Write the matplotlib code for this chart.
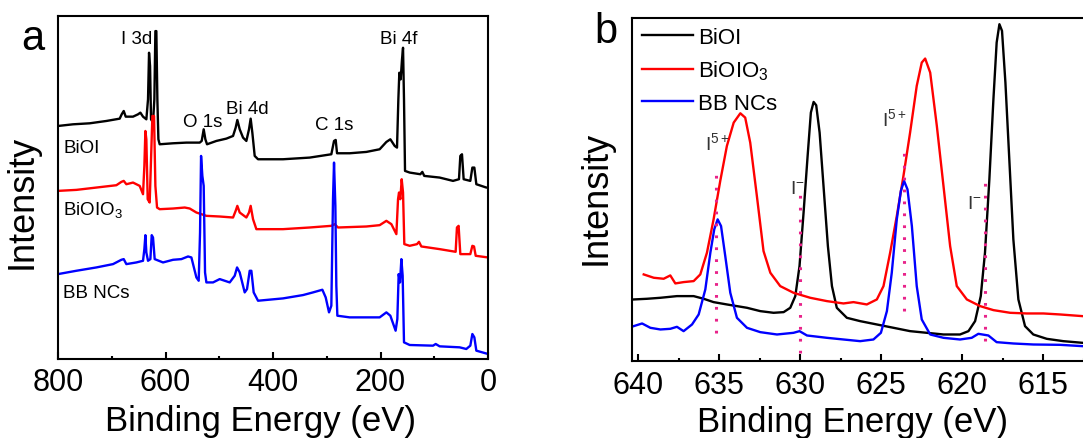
import matplotlib
matplotlib.use("Agg")
import matplotlib.pyplot as plt
from matplotlib.ticker import MultipleLocator

plt.rcParams['font.family'] = ['Liberation Sans', 'DejaVu Sans']
plt.rcParams['mathtext.fontset'] = 'custom'
plt.rcParams['mathtext.rm'] = 'Liberation Sans'
plt.rcParams['mathtext.it'] = 'Liberation Sans'

# ---- panel a: survey spectra (binding energy in eV, intensity in a.u., stacked) ----
a_biOI_E = [800, 772.1, 741.1, 710.1, 685.3, 681.6, 677.8, 674.1, 660.5, 651.2, 646.8, 641.9,
            635.7, 632.6, 630.7, 628.8, 627.0, 623.3, 620.8, 618.9, 617.1, 615.2, 613.3, 610.9,
            586.0, 561.2, 536.4, 532.7, 529.0, 525.9, 522.8, 505.4, 486.8, 474.4, 469.5, 466.4,
            462.0, 455.8, 449.6, 444.7, 441.6, 438.5, 434.1, 427.9, 381.4, 331.8, 291.5, 286.5,
            283.4, 280.9, 257.4, 226.4, 201.6, 189.1, 181.7, 173.6, 169.3, 166.8, 165.0, 162.5,
            160.0, 158.1, 156.3, 154.4, 145.7, 125.9, 122.2, 118.6, 90.0, 65.1, 54.0, 51.5,
            48.4, 45.3, 32.9, 29.1, 25.4, 21.7, 12.4, 3.1, 0]
a_biOI_I = [700, 705, 708, 715, 722, 735, 745, 728, 728, 735, 740, 728,
            720, 780, 920, 880, 720, 710, 780, 985, 985, 780, 660, 645,
            648, 650, 650, 655, 690, 660, 645, 655, 662, 670, 695, 718,
            690, 665, 655, 690, 722, 680, 610, 600, 600, 605, 615, 655,
            658, 618, 618, 622, 630, 652, 660, 640, 635, 780, 860, 840,
            900, 935, 780, 565, 560, 555, 562, 550, 545, 535, 540, 610,
            615, 540, 535, 575, 575, 525, 520, 515, 515]

a_biOIO3_E = [800, 765.9, 728.7, 691.5, 682.2, 677.8, 672.9, 660.5, 648.1, 641.9, 639.4, 637.5,
              635.7, 633.2, 629.5, 626.4, 624.5, 621.4, 618.9, 615.8, 610.9, 586.0, 564.3, 555.0,
              542.6, 524.0, 499.2, 474.4, 469.5, 466.4, 462.0, 449.6, 444.7, 441.6, 437.2, 431.0,
              381.4, 331.8, 291.5, 285.3, 279.1, 226.4, 201.6, 189.1, 179.8, 170.5, 167.4, 165.6,
              163.1, 160.6, 158.1, 155.7, 145.7, 132.1, 128.4, 124.0, 90.0, 60.2, 57.8, 54.7,
              51.5, 32.9, 29.1, 26.0, 22.9, 0]
a_biOIO3_I = [505, 508, 515, 522, 532, 535, 525, 530, 520, 495, 580, 685,
              660, 480, 470, 630, 730, 730, 520, 455, 450, 452, 455, 452,
              440, 430, 428, 425, 445, 460, 440, 425, 440, 460, 420, 390,
              390, 395, 400, 405, 395, 398, 402, 415, 405, 375, 480, 500,
              480, 540, 500, 345, 340, 345, 352, 338, 330, 322, 395, 400,
              315, 315, 340, 338, 310, 305]

a_bb_E = [800, 765.9, 728.7, 697.7, 682.2, 677.8, 672.9, 654.3, 641.9, 639.4, 637.5, 635.7,
          632.6, 628.2, 625.7, 623.3, 620.2, 604.7, 586.0, 570.5, 558.1, 551.9, 542.6, 538.3,
          535.8, 533.9, 531.5, 529.0, 526.5, 524.0, 511.6, 499.2, 480.6, 471.3, 466.9, 462.0,
          452.7, 448.4, 443.4, 440.3, 436.0, 427.9, 381.4, 344.2, 325.6, 308.2, 302.0, 295.8,
          291.5, 288.4, 286.5, 284.0, 282.2, 280.3, 257.4, 226.4, 201.6, 189.1, 181.7, 171.9,
          168.7, 166.2, 163.7, 161.2, 158.8, 156.3, 145.7, 102.3, 97.3, 90.0, 52.8, 40.4,
          32.9, 29.1, 25.4, 21.7, 0]
a_bb_I = [255, 265, 275, 285, 298, 300, 285, 290, 295, 330, 372, 320,
          295, 300, 372, 365, 300, 290, 298, 300, 308, 305, 245, 235,
          380, 610, 550, 520, 260, 230, 230, 240, 230, 250, 275, 260,
          200, 210, 265, 265, 200, 175, 182, 192, 200, 208, 185, 140,
          160, 480, 590, 460, 220, 130, 125, 125, 125, 140, 130, 85,
          120, 255, 230, 300, 250, 50, 42, 40, 45, 38, 35, 30,
          40, 75, 65, 25, 15]

a_names = ['BiOI', 'BiOIO$_3$', 'BB NCs']
a_peaks = ['I 3d', 'Bi 4f', 'O 1s', 'Bi 4d', 'C 1s']

# ---- panel b: I 3d high resolution ----
b_biOI_E = [640.27, 639.45, 638.62, 637.6, 636.57, 635.95, 635.34, 634.52, 633.28, 632.46, 631.64,
            631.02, 630.61, 630.30, 630.04, 629.79, 629.54, 629.34, 629.17, 629.01, 628.80, 628.56,
            628.29, 628.04, 627.74, 627.12, 626.30, 625.27, 624.24, 623.22, 622.19, 621.16, 620.14,
            619.62, 619.21, 618.86, 618.60, 618.33, 618.08, 617.88, 617.71, 617.55, 617.34, 617.10,
            616.85, 616.54, 616.13, 615.62, 614.79, 613.77, 612.58]
b_biOI_I = [185, 187, 190, 195, 195, 187, 177, 170, 160, 150, 145,
            147, 160, 195, 285, 445, 615, 745, 777, 767, 685, 525,
            345, 225, 160, 130, 120, 110, 100, 90, 85, 80, 80,
            90, 120, 195, 325, 545, 785, 955, 1010, 990, 835, 605,
            365, 185, 105, 80, 67, 60, 55]

b_biOIO3_E = [639.65, 639.03, 638.42, 638.01, 637.70, 637.19, 636.57, 636.16, 635.75, 635.34, 634.93,
              634.52, 634.10, 633.69, 633.39, 633.08, 632.67, 632.26, 631.84, 631.23, 630.41, 629.38,
              628.35, 627.33, 626.71, 625.89, 625.27, 624.86, 624.45, 624.04, 623.63, 623.22, 622.81,
              622.50, 622.29, 621.98, 621.57, 621.16, 620.75, 620.34, 619.72, 618.90, 618.08, 617.05,
              616.03, 615.0, 613.97, 612.58]
b_biOIO3_I = [260, 250, 247, 257, 233, 237, 240, 260, 325, 425, 540,
              645, 715, 743, 730, 655, 495, 330, 265, 225, 205, 190,
              180, 173, 177, 170, 185, 225, 325, 435, 555, 685, 825,
              895, 907, 865, 705, 525, 345, 225, 185, 165, 153, 145,
              143, 143, 140, 135]

b_bb_E = [640.27, 639.75, 639.24, 638.62, 638.01, 637.6, 637.19, 636.67, 636.26, 635.85, 635.54,
          635.30, 635.09, 634.88, 634.62, 634.31, 633.90, 633.28, 632.46, 631.43, 630.41, 630.04,
          629.58, 628.35, 627.33, 626.30, 625.48, 625.02, 624.65, 624.35, 624.04, 623.79, 623.59,
          623.38, 623.11, 622.81, 622.50, 621.98, 621.16, 620.14, 619.42, 619.01, 618.39, 617.88,
          616.85, 615.62, 613.97, 612.58]
b_bb_I = [105, 113, 100, 95, 97, 103, 90, 110, 140, 215, 325,
          395, 425, 405, 315, 205, 130, 100, 87, 80, 85, 90,
          77, 70, 65, 60, 65, 85, 150, 265, 425, 510, 540,
          515, 405, 225, 125, 80, 70, 65, 70, 82, 77, 57,
          53, 50, 49, 45]

# reference lines for I5+ / I- positions
b_ref_E = [635.2, 630.0, 623.6, 618.6]
b_ref_lo = [85, 25, 150, 60]
b_ref_hi = [565, 505, 630, 540]

fig = plt.figure(figsize=(10.83, 4.39), dpi=100)
ax1 = fig.add_axes([0.0536, 0.18, 0.397, 0.781])
ax2 = fig.add_axes([0.5836, 0.175, 0.4247, 0.7813])

lw = 1.7
ax1.plot(a_biOI_E, a_biOI_I, color='black', lw=lw)
ax1.plot(a_biOIO3_E, a_biOIO3_I, color='#FF0000', lw=lw)
ax1.plot(a_bb_E, a_bb_I, color='#0000FF', lw=lw)
ax1.set_xlim(800, 0)
ax1.set_ylim(0, 1030)

ax1.text(790.7, 622, a_names[0], fontsize=13.5)
ax1.text(790.7, 435, a_names[1], fontsize=13.5)
ax1.text(790.7, 185, a_names[2], fontsize=13.5)
ax1.text(682, 950, a_peaks[0], fontsize=13.5)
ax1.text(201.6, 950, a_peaks[1], fontsize=13.5)
ax1.text(567.4, 700, a_peaks[2], fontsize=13.5)
ax1.text(488, 740, a_peaks[3], fontsize=13.5)
ax1.text(322.5, 690, a_peaks[4], fontsize=13.5)

ax2.plot(b_biOI_E, b_biOI_I, color='black', lw=lw, label='BiOI')
ax2.plot(b_biOIO3_E, b_biOIO3_I, color='#FF0000', lw=lw, label='BiOIO$_3$')
ax2.plot(b_bb_E, b_bb_I, color='#0000FF', lw=lw, label='BB NCs')
for e, lo, hi in zip(b_ref_E, b_ref_lo, b_ref_hi):
    ax2.plot([e, e], [lo, hi], color='#E8238A', lw=2.2, linestyle=(0, (0.9, 3.0)))
ax2.set_xlim(640.37, 612.0)
ax2.set_ylim(0, 1028)

ann = '#333333'
ax2.text(635.85, 635, 'I$^{5+}$', fontsize=14, color=ann)
ax2.text(624.96, 707, 'I$^{5+}$', fontsize=14, color=ann)
ax2.text(630.65, 505, 'I$^{-}$', fontsize=14, color=ann)
ax2.text(619.72, 460, 'I$^{-}$', fontsize=14, color=ann)

ax2.legend(loc='upper left', bbox_to_anchor=(0.003, 1.0), frameon=False, fontsize=16,
           handlelength=2.3, handletextpad=0.2, labelspacing=0.48, borderaxespad=0.0)

for ax in (ax1, ax2):
    for s in ax.spines.values():
        s.set_linewidth(1.5)
    ax.set_yticks([])
    ax.tick_params(axis='x', which='both', direction='in', top=False, labelsize=22, pad=6, width=1.5)
    ax.tick_params(axis='x', which='major', length=5)
    ax.tick_params(axis='x', which='minor', length=2.5)
    ax.set_xlabel('Binding Energy (eV)', fontsize=25, va='baseline')
    ax.set_ylabel('Intensity', fontsize=26)

ax1.xaxis.set_major_locator(MultipleLocator(200))
ax1.xaxis.set_minor_locator(MultipleLocator(100))
ax2.xaxis.set_major_locator(MultipleLocator(5))
ax2.xaxis.set_minor_locator(MultipleLocator(2.5))

ax1.xaxis.set_label_coords(0.47, -0.207)
ax2.xaxis.set_label_coords(0.48, -0.205)
ax1.yaxis.set_label_coords(-0.044, 0.46)
ax2.yaxis.set_label_coords(-0.039, 0.478)

fig.text(33 / 1083, 1 - 39 / 439, 'a', fontsize=30, ha='center', va='center')
fig.text(606 / 1083, 1 - 32 / 439, 'b', fontsize=30, ha='center', va='center')

fig.savefig('out.png', dpi=100)
